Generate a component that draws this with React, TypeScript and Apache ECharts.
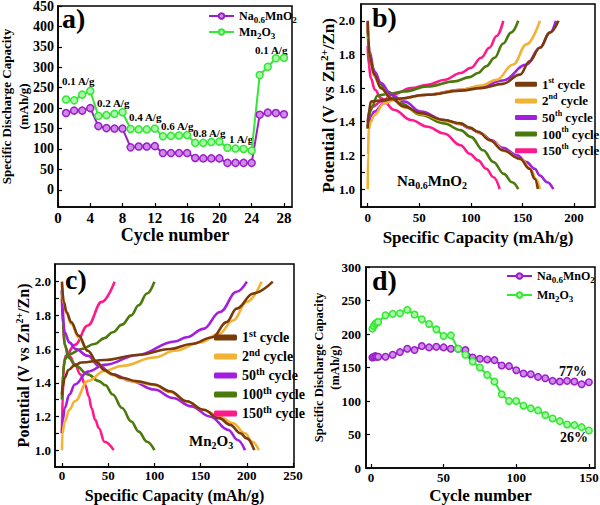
import React, { useEffect, useRef } from 'react';
import * as echarts from 'echarts';

const FONT = '"Liberation Serif", "Times New Roman", Times, serif';

// ---------- Panel a: rate capability ----------
const rateCycles = [1, 2, 3, 4, 5, 6, 7, 8, 9, 10, 11, 12, 13, 14, 15, 16, 17, 18, 19, 20, 21, 22, 23, 24, 25, 26, 27, 28];
const rateNa = [188, 194, 194, 200, 156, 151, 150, 150, 104, 106, 106, 107, 90, 90, 90, 90, 78, 77, 77, 77, 66, 66, 66, 66, 184, 189, 188, 185];
const rateMn = [221, 219, 233, 242, 181, 183, 186, 190, 149, 148, 148, 150, 131, 132, 133, 134, 115, 115, 117, 118, 103, 101, 100, 96, 281, 301, 322, 323];
const rateLabels = ['0.1 A/g', '0.2 A/g', '0.4 A/g', '0.6 A/g', '0.8 A/g', '1 A/g', '0.1 A/g'];
const aXTicks = [0, 4, 8, 12, 16, 20, 24, 28];
const aYTicks = [0, 50, 100, 150, 200, 250, 300, 350, 400, 450];

// ---------- Panel b: Na0.6MnO2 charge/discharge ----------
const b1Dis = [[0, 2.0], [0.5, 1.9], [1.6, 1.8], [6.4, 1.68], [12.9, 1.6], [22.6, 1.54], [35.5, 1.49], [51.6, 1.45], [74, 1.41], [90, 1.39], [99, 1.365], [107, 1.34], [118.5, 1.29], [131, 1.23], [147.6, 1.18], [157, 1.12], [162, 1.06], [165, 1.0]];
const b1Chg = [[0, 1.36], [1, 1.46], [3.2, 1.52], [9.7, 1.525], [25.8, 1.535], [58, 1.56], [90, 1.585], [110, 1.6], [131, 1.625], [147.6, 1.68], [157, 1.76], [167, 1.84], [176.6, 1.93], [185, 2.0]];
const b2Dis = [[0, 1.98], [1.6, 1.8], [6.4, 1.67], [13, 1.6], [23, 1.535], [36, 1.485], [52, 1.445], [75, 1.405], [91, 1.385], [100, 1.36], [108, 1.335], [120, 1.285], [133, 1.225], [149, 1.175], [158, 1.12], [163, 1.06], [167, 1.0]];
const b2Chg = [[0, 1.0], [0.3, 1.2], [1, 1.35], [3, 1.4], [6.4, 1.44], [16, 1.51], [25.8, 1.53], [58, 1.56], [90, 1.59], [110, 1.615], [125, 1.65], [141, 1.74], [154, 1.86], [167, 2.0]];
const b50Dis = [[0, 1.99], [1.6, 1.82], [6.4, 1.7], [13, 1.63], [22.6, 1.56], [35.5, 1.52], [51.6, 1.46], [74, 1.41], [90, 1.385], [99, 1.36], [110, 1.33], [120, 1.29], [131, 1.245], [145, 1.2], [154, 1.16], [162, 1.12], [167, 1.08], [174, 1.04], [180, 1.0]];
const b50Chg = [[0, 1.37], [1, 1.4], [3, 1.43], [6.4, 1.46], [16, 1.51], [25.8, 1.535], [58, 1.56], [90, 1.59], [110, 1.61], [131, 1.645], [154, 1.74], [167, 1.84], [176.6, 1.93], [182.5, 2.0]];
const b100Dis = [[0, 1.95], [1, 1.82], [3.2, 1.74], [9.7, 1.64], [19.4, 1.58], [32, 1.51], [51.6, 1.44], [74, 1.39], [90, 1.35], [100, 1.31], [112, 1.23], [122, 1.16], [132, 1.09], [140, 1.04], [146, 1.0]];
const b100Chg = [[0, 1.36], [1, 1.42], [3.2, 1.48], [9.7, 1.555], [19.4, 1.565], [35.5, 1.58], [58, 1.61], [84, 1.64], [99, 1.665], [107, 1.69], [115, 1.73], [123, 1.78], [131.4, 1.865], [139, 1.93], [146, 2.0]];
const b150Dis = [[0, 1.85], [1, 1.74], [3, 1.66], [7, 1.59], [12.9, 1.54], [25.8, 1.47], [42, 1.41], [58, 1.37], [74, 1.33], [90, 1.26], [99, 1.21], [107, 1.17], [115, 1.12], [122, 1.07], [128, 1.0]];
const b150Chg = [[0, 1.4], [2, 1.46], [5, 1.49], [12.9, 1.52], [25.8, 1.565], [42, 1.6], [58, 1.62], [75, 1.65], [90, 1.69], [100, 1.72], [110, 1.78], [118, 1.84], [125, 1.91], [131.5, 2.0]];

// ---------- Panel c: Mn2O3 charge/discharge ----------
const c1Dis = [[0, 2.0], [2, 1.88], [5, 1.82], [10, 1.76], [18, 1.68], [28, 1.59], [38, 1.52], [46, 1.475], [55, 1.45], [65, 1.43], [80, 1.41], [100, 1.39], [117, 1.35], [135, 1.29], [153, 1.24], [170, 1.19], [182, 1.15], [193, 1.1], [200, 1.07], [208, 1.0]];
const c1Chg = [[0, 1.33], [1, 1.38], [3, 1.43], [7, 1.476], [14, 1.505], [21, 1.52], [46, 1.535], [82, 1.565], [117, 1.6], [140, 1.63], [163, 1.67], [178, 1.76], [189, 1.84], [207, 1.93], [228, 2.0]];
const c2Dis = [[0, 1.98], [2, 1.87], [5, 1.81], [10, 1.75], [18, 1.67], [28, 1.59], [38, 1.52], [46, 1.47], [55, 1.445], [65, 1.425], [80, 1.405], [100, 1.385], [117, 1.345], [135, 1.29], [153, 1.24], [170, 1.2], [185, 1.16], [198, 1.1], [206, 1.05], [213, 1.0]];
const c2Chg = [[0, 1.0], [0.5, 1.1], [3, 1.17], [8, 1.24], [14, 1.29], [28, 1.41], [46, 1.47], [65, 1.5], [100, 1.55], [122, 1.59], [150, 1.64], [170, 1.69], [185, 1.77], [200, 1.88], [216, 2.0]];
const c50Dis = [[0, 1.95], [3, 1.7], [8, 1.64], [15, 1.6], [28, 1.56], [40, 1.5], [55, 1.45], [75, 1.41], [100, 1.36], [120, 1.31], [140, 1.26], [160, 1.2], [180, 1.12], [190, 1.06], [198, 1.0]];
const c50Chg = [[0, 1.1], [1, 1.18], [3, 1.25], [8, 1.33], [14, 1.39], [28, 1.466], [46, 1.506], [82, 1.565], [122, 1.645], [135, 1.67], [153, 1.72], [171, 1.82], [189, 1.94], [200, 2.0]];
const c100Dis = [[0, 1.95], [1, 1.75], [3, 1.63], [7, 1.55], [15, 1.5], [28, 1.45], [40, 1.41], [47, 1.385], [55, 1.33], [65, 1.25], [75, 1.17], [83, 1.11], [92, 1.05], [100, 1.0]];
const c100Chg = [[0, 1.3], [1, 1.45], [3, 1.54], [8, 1.57], [21, 1.6], [35, 1.63], [46, 1.665], [55, 1.7], [65, 1.745], [75, 1.8], [83, 1.86], [92, 1.93], [100, 2.0]];
const c150Dis = [[0, 1.9], [1, 1.75], [3, 1.62], [8, 1.56], [14, 1.51], [20, 1.45], [25, 1.39], [29, 1.32], [32, 1.25], [36, 1.18], [40, 1.13], [46, 1.05], [56, 1.0]];
const c150Chg = [[0, 1.1], [1, 1.35], [2, 1.5], [4, 1.56], [14, 1.625], [28, 1.74], [43, 1.88], [57, 2.0]];

const cycleNames = ['1st cycle', '2nd cycle', '50th cycle', '100th cycle', '150th cycle'];
const potLabels = [1.0, 1.2, 1.4, 1.6, 1.8, 2.0];
const potTicks = [1.0, 1.1, 1.2, 1.3, 1.4, 1.5, 1.6, 1.7, 1.8, 1.9, 2.0];
const bXTicks = [0, 50, 100, 150, 200];
const cXTicks = [0, 50, 100, 150, 200, 250];

// ---------- Panel d: cycling stability ----------
const dCycles = [1, 2, 3, 4, 5, 10, 15, 20, 25, 30, 35, 40, 45, 50, 55, 60, 65, 70, 75, 80, 85, 90, 95, 100, 105, 110, 115, 120, 125, 130, 135, 140, 145, 150];
const dNa = [165, 166, 167, 166, 166, 166, 169, 173, 178, 176, 182, 180, 181, 180, 178, 178, 176, 165, 163, 162, 161, 153, 152, 146, 141, 140, 136, 134, 130, 129, 130, 129, 125, 128];
const dMn = [208, 212, 215, 217, 218, 228, 230, 231, 236, 229, 222, 215, 207, 197, 198, 178, 169, 159, 150, 139, 129, 110, 100, 100, 93, 89, 86, 79, 74, 70, 65, 64, 61, 56];
const dXTicks = [0, 50, 100, 150];
const dYTicks = [0, 50, 100, 150, 200, 250, 300];
const retention = ['77%', '26%'];

const NA_NAME = 'Na0.6MnO2';
const MN_NAME = 'Mn2O3';

const C_NA = '#9a1fc8';
const C_NA_FILL = '#d08ae8';
const C_MN = '#33e833';
const C_MN_FILL = '#aaf7aa';
const CYCLE_COLORS: Record<string, string> = {
  '1st cycle': '#7a3b0c',
  '2nd cycle': '#f2b233',
  '50th cycle': '#a31fe0',
  '100th cycle': '#4a7a0c',
  '150th cycle': '#ff1a8c',
};

const txt = (size: number) => ({ fontFamily: FONT, fontWeight: 'bold' as const, fontSize: size, color: '#000' });

function mkAxis(o: {
  grid: number; min: number; max: number; labels: number[]; ticks: number[]; size: number; margin: number;
  name: string; nameSize: number; nameGap: number; fmt?: (v: number) => string; rich?: any; nameLineHeight?: number;
}) {
  return {
    type: 'value',
    gridIndex: o.grid,
    min: o.min,
    max: o.max,
    name: o.name,
    nameLocation: 'middle',
    nameGap: o.nameGap,
    nameMoveOverlap: false,
    nameTextStyle: { ...txt(o.nameSize), lineHeight: o.nameLineHeight, rich: o.rich },
    axisLine: { show: true, onZero: false, lineStyle: { color: '#000', width: 1.5 } },
    axisTick: { show: true, inside: true, length: 4, customValues: o.ticks, lineStyle: { color: '#000', width: 1.2 } },
    axisLabel: { ...txt(o.size), margin: o.margin, customValues: o.labels, formatter: o.fmt },
    splitLine: { show: false },
  };
}

const supFmt = (n: string) => n.replace(/^(\d+)(st|nd|th)/, '$1{sup|$2}');
const chemFmt = (n: string) => (n === NA_NAME ? 'Na{sub|0.6}MnO{sub|2}' : 'Mn{sub|2}O{sub|3}');

function cycleSeries(grid: number, curves: [string, number[][], number[][]][]) {
  const out: any[] = [];
  curves.forEach(([name, dis, chg]) => {
    [dis, chg].forEach((d) => {
      out.push({
        type: 'line',
        name,
        xAxisIndex: grid,
        yAxisIndex: grid,
        data: d,
        symbol: 'none',
        smooth: 0.4,
        smoothMonotone: 'x',
        lineStyle: { color: CYCLE_COLORS[name], width: 2.6 },
        itemStyle: { color: CYCLE_COLORS[name] },
      });
    });
  });
  return out;
}

function markerSeries(grid: number, name: string, xs: number[], ys: number[], color: string, fill: string, size: number) {
  return {
    type: 'line',
    name,
    xAxisIndex: grid,
    yAxisIndex: grid,
    data: xs.map((x, i) => [x, ys[i]]),
    symbol: 'circle',
    symbolSize: size,
    lineStyle: { color, width: 2 },
    itemStyle: { color: fill, borderColor: color, borderWidth: 1.5 },
  };
}

function buildOption() {
  const gridBase = { show: true, borderColor: '#000', borderWidth: 1.5, backgroundColor: 'transparent', containLabel: false, outerBoundsMode: 'none' };
  const potFmt = (v: number) => v.toFixed(1);
  const supRich = (size: number, lh: number) => ({ sup: { ...txt(size), verticalAlign: 'top', lineHeight: lh } });
  const subRich = (size: number, lh: number) => ({ sub: { ...txt(size), verticalAlign: 'bottom', lineHeight: lh } });

  const labelPos = [
    [62, 75], [97, 97], [129, 111], [161, 120], [193, 127], [229, 133], [255, 44],
  ];

  const panelFont = `bold 28px ${FONT}`;
  const graphic: any[] = [
    { type: 'text', left: 62, top: 4, style: { text: 'a)', font: panelFont, fill: '#000' } },
    { type: 'text', left: 372, top: 3, style: { text: 'b)', font: panelFont, fill: '#000' } },
    { type: 'text', left: 65, top: 265, style: { text: 'c)', font: panelFont, fill: '#000' } },
    { type: 'text', left: 372, top: 266, style: { text: 'd)', font: panelFont, fill: '#000' } },
    ...rateLabels.map((t, i) => ({
      type: 'text', left: labelPos[i][0], top: labelPos[i][1],
      style: { text: t, font: `bold 11px ${FONT}`, fill: '#000' },
    })),
    {
      type: 'text', left: 397, top: 172,
      style: { text: 'Na{sub|0.6}MnO{sub|2}', font: `bold 15px ${FONT}`, fill: '#000', lineHeight: 18, rich: subRich(10, 18) },
    },
    {
      type: 'text', left: 189, top: 432,
      style: { text: 'Mn{sub|2}O{sub|3}', font: `bold 15px ${FONT}`, fill: '#000', lineHeight: 18, rich: subRich(10, 18) },
    },
    { type: 'text', left: 559, top: 364, style: { text: retention[0], font: `bold 14px ${FONT}`, fill: '#000' } },
    { type: 'text', left: 560, top: 430, style: { text: retention[1], font: `bold 14px ${FONT}`, fill: '#000' } },
  ];

  return {
    animation: false,
    backgroundColor: '#fff',
    grid: [
      { ...gridBase, left: 58, top: 6, width: 234, height: 201 },
      { ...gridBase, left: 361, top: 4, width: 234, height: 203 },
      { ...gridBase, left: 55, top: 264, width: 239, height: 203 },
      { ...gridBase, left: 366, top: 267, width: 229, height: 201 },
    ],
    xAxis: [
      mkAxis({ grid: 0, min: 0, max: 29, labels: aXTicks, ticks: aXTicks, size: 15, margin: 3, name: 'Cycle number', nameSize: 18, nameGap: 19 }),
      mkAxis({ grid: 1, min: -6.5, max: 220.4, labels: bXTicks, ticks: bXTicks, size: 13, margin: 4, name: 'Specific Capacity (mAh/g)', nameSize: 17, nameGap: 22 }),
      mkAxis({ grid: 2, min: -7.5, max: 251, labels: cXTicks, ticks: cXTicks, size: 13, margin: 2, name: 'Specific Capacity (mAh/g)', nameSize: 16, nameGap: 20 }),
      mkAxis({ grid: 3, min: -3.4, max: 154.2, labels: dXTicks, ticks: dXTicks, size: 13, margin: 3, name: 'Cycle number', nameSize: 17, nameGap: 19 }),
    ],
    yAxis: [
      mkAxis({ grid: 0, min: -42, max: 450, labels: aYTicks, ticks: aYTicks, size: 14, margin: 4, name: 'Specific Discharge Capacity\n(mAh/g)', nameSize: 13, nameGap: 26, nameLineHeight: 17 }),
      mkAxis({ grid: 1, min: 0.893, max: 2.1, labels: potLabels, ticks: potTicks, size: 13, margin: 6, fmt: potFmt, name: 'Potential (V vs Zn{sup|2+}/Zn)', nameSize: 17, nameGap: 23, nameLineHeight: 20, rich: supRich(11, 20) }),
      mkAxis({ grid: 2, min: 0.9, max: 2.105, labels: potLabels, ticks: potTicks, size: 13, margin: 4, fmt: potFmt, name: 'Potential (V vs Zn{sup|2+}/Zn)', nameSize: 16, nameGap: 22, nameLineHeight: 19, rich: supRich(10, 19) }),
      mkAxis({ grid: 3, min: 0, max: 300, labels: dYTicks, ticks: dYTicks, size: 13, margin: 5, name: 'Specific Discharge Capacity\n(mAh/g)', nameSize: 12.5, nameGap: 23, nameLineHeight: 16 }),
    ],
    legend: [
      {
        left: 208, top: 8, orient: 'vertical', padding: 0, itemGap: 0, itemWidth: 25, itemHeight: 7,
        data: [NA_NAME, MN_NAME], formatter: chemFmt,
        textStyle: { ...txt(12), lineHeight: 16, rich: subRich(9, 16) },
      },
      {
        left: 515, top: 76, orient: 'vertical', padding: 0, itemGap: 0, itemWidth: 22, itemHeight: 5, icon: 'roundRect',
        data: cycleNames, formatter: supFmt,
        textStyle: { ...txt(13), lineHeight: 16.6, rich: supRich(8, 16.6) },
      },
      {
        left: 214, top: 328, orient: 'vertical', padding: 0, itemGap: 0, itemWidth: 23, itemHeight: 6, icon: 'roundRect',
        data: cycleNames, formatter: supFmt,
        textStyle: { ...txt(14), lineHeight: 19, rich: supRich(10, 19) },
      },
      {
        left: 506, top: 268, orient: 'vertical', padding: 0, itemGap: 3, itemWidth: 25, itemHeight: 7,
        data: [NA_NAME, MN_NAME], formatter: chemFmt,
        textStyle: { ...txt(12), lineHeight: 16, rich: subRich(9, 16) },
      },
    ],
    series: [
      markerSeries(0, NA_NAME, rateCycles, rateNa, C_NA, C_NA_FILL, 7),
      markerSeries(0, MN_NAME, rateCycles, rateMn, C_MN, C_MN_FILL, 7),
      ...cycleSeries(1, [
        ['150th cycle', b150Dis, b150Chg],
        ['100th cycle', b100Dis, b100Chg],
        ['50th cycle', b50Dis, b50Chg],
        ['2nd cycle', b2Dis, b2Chg],
        ['1st cycle', b1Dis, b1Chg],
      ]),
      ...cycleSeries(2, [
        ['150th cycle', c150Dis, c150Chg],
        ['100th cycle', c100Dis, c100Chg],
        ['50th cycle', c50Dis, c50Chg],
        ['2nd cycle', c2Dis, c2Chg],
        ['1st cycle', c1Dis, c1Chg],
      ]),
      markerSeries(3, NA_NAME, dCycles, dNa, C_NA, C_NA_FILL, 6.5),
      markerSeries(3, MN_NAME, dCycles, dMn, C_MN, C_MN_FILL, 6.5),
    ],
    graphic,
  };
}

export default function App() {
  const ref = useRef<HTMLDivElement>(null);
  useEffect(() => {
    const chart = echarts.init(ref.current!, null, { renderer: 'svg' });
    chart.setOption(buildOption() as any);
    return () => chart.dispose();
  }, []);
  return <div ref={ref} style={{ position: 'fixed', left: 0, top: 0, width: 600, height: 505, background: '#fff' }} />;
}
